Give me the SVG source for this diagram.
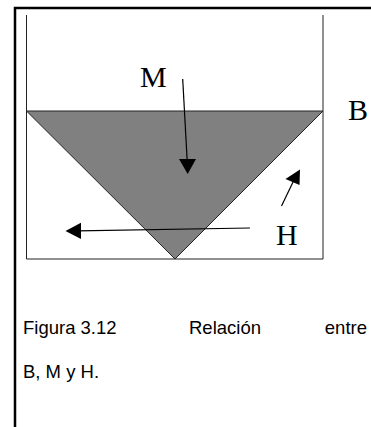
<svg xmlns="http://www.w3.org/2000/svg" width="371" height="427" viewBox="0 0 371 427">
<style>
.frame{fill:none;stroke:#000;stroke-width:2.5}
.box{fill:none;stroke:#222;stroke-width:1}
.core{fill:#808080;stroke:#222;stroke-width:1;stroke-linejoin:miter}
.lbl{font-family:"Liberation Serif","Times New Roman",serif;font-size:30px;fill:#000}
.cap{font-family:"Liberation Sans",Arial,sans-serif;font-size:18.5px;fill:#000}
.arr{stroke:#000;stroke-width:1.2;fill:none}
.head{fill:#000}
</style>
<g id="frame">
<polyline class="frame" points="15,427 15,8 371,8"/>
</g>
<g id="container">
<polyline class="box" points="26.5,15 26.5,259 323,259 323,15"/>
</g>
<g id="core">
<polygon class="core" points="26.5,111 323,111 175,259"/>
</g>
<g id="label-M"><text class="lbl" x="140" y="87">M</text></g>
<g id="label-B"><text class="lbl" x="348" y="120">B</text></g>
<g id="label-H"><text class="lbl" x="276" y="245">H</text></g>
<g id="connectors">
<line class="arr" x1="182.7" y1="79" x2="187.2" y2="161"/>
<polygon class="head" points="179,159 196,159 187.7,174"/>
<line class="arr" x1="281.5" y1="206" x2="294" y2="180"/>
<polygon class="head" points="300,169.5 299.5,185 285.5,179"/>
<line class="arr" x1="250" y1="228" x2="78" y2="230.8"/>
<polygon class="head" points="65.5,231 81,222.7 81,239"/>
</g>
<g id="caption">
<text class="cap" x="23" y="334">Figura 3.12</text>
<text class="cap" x="189" y="334">Relación</text>
<text class="cap" x="367" y="334" text-anchor="end">entre</text>
<text class="cap" x="23" y="378">B, M y H.</text>
</g>
</svg>
